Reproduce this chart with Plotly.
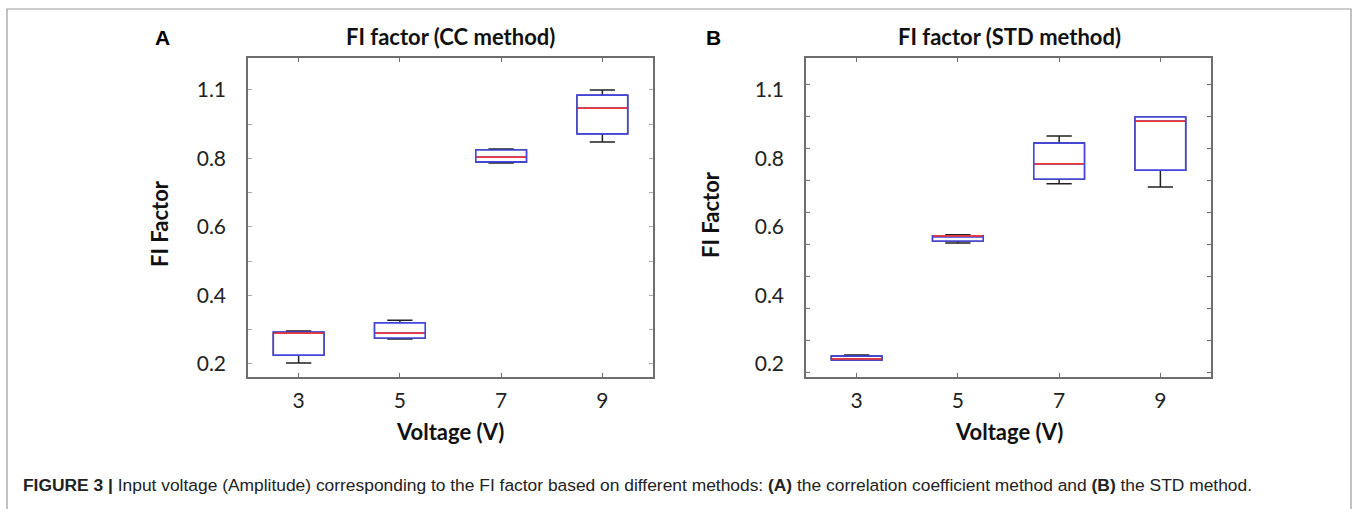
import plotly.graph_objects as go

W, H = 1358, 509

voltages = [3, 5, 7, 9]
tick_vals_x = [3, 5, 7, 9]
y_tickvals = [0.2, 0.4, 0.6, 0.8, 1.0]
y_ticktext = ["0.2", "0.4", "0.6", "0.8", "1.1"]

# Panel A (CC method): box statistics
cc_lower = [0.203, 0.273, 0.787, 0.848]
cc_q1 = [0.226, 0.276, 0.790, 0.872]
cc_median = [0.290, 0.290, 0.804, 0.947]
cc_q3 = [0.293, 0.320, 0.825, 0.985]
cc_upper = [0.296, 0.328, 0.828, 1.000]

# Panel B (STD method)
std_lower = [0.212, 0.553, 0.726, 0.717]
std_q1 = [0.212, 0.559, 0.740, 0.766]
std_median = [0.215, 0.574, 0.784, 0.909]
std_q3 = [0.223, 0.574, 0.845, 0.921]
std_upper = [0.226, 0.577, 0.866, 0.921]

BLUE = "#4444e0"
RED = "#e83a3a"
BLACK = "#222222"
AXIS = "#6e6e6e"
FONT = "Lato, 'Open Sans', sans-serif"

fig = go.Figure()


def add_panel(xa, ya, lower, q1, med, q3, upper):
    # whiskers + caps in black
    fig.add_trace(go.Box(
        x=voltages, lowerfence=lower, q1=q1, median=med, q3=q3, upperfence=upper,
        width=1.0, whiskerwidth=0.5, line=dict(color=BLACK, width=1.5),
        fillcolor="white", xaxis=xa, yaxis=ya, showlegend=False, hoverinfo="skip",
    ))
    # box outline in blue
    fig.add_trace(go.Box(
        x=voltages, lowerfence=q1, q1=q1, median=med, q3=q3, upperfence=q3,
        width=1.0, whiskerwidth=0, line=dict(color=BLUE, width=1.6),
        fillcolor="white", xaxis=xa, yaxis=ya, showlegend=False, hoverinfo="skip",
    ))
    # median in red
    fig.add_trace(go.Box(
        x=voltages, lowerfence=med, q1=med, median=med, q3=med, upperfence=med,
        width=0.97, whiskerwidth=0, line=dict(color=RED, width=1.7),
        fillcolor="rgba(0,0,0,0)", xaxis=xa, yaxis=ya, showlegend=False, hoverinfo="skip",
    ))


add_panel("x", "y", cc_lower, cc_q1, cc_median, cc_q3, cc_upper)
add_panel("x2", "y2", std_lower, std_q1, std_median, std_q3, std_upper)

ydom = [1 - 377 / H, 1 - 58 / H]
yrange = [0.162, 1.0934]
xrange = [2, 10]

xcommon = dict(
    range=xrange, tickvals=tick_vals_x, ticktext=[str(v) for v in tick_vals_x],
    ticks="inside", ticklen=4, tickcolor=AXIS, showline=True, linecolor=AXIS, linewidth=1.5,
    mirror="ticks", showgrid=False, zeroline=False,
    tickfont=dict(family=FONT, size=21, color="#222"), ticklabelstandoff=4,
)
ycommon = dict(
    range=yrange, tickvals=y_tickvals, ticktext=y_ticktext,
    showline=True, linecolor=AXIS, linewidth=1.5, mirror="ticks", showgrid=False, zeroline=False,
    tickfont=dict(family=FONT, size=21, color="#222"), ticklabelstandoff=16,
)

fig.update_layout(
    width=W, height=H, autosize=False,
    margin=dict(l=0, r=0, t=0, b=0),
    paper_bgcolor="white", plot_bgcolor="white",
    boxmode="overlay",
    xaxis=dict(domain=[248 / W, 653 / W], anchor="y", **xcommon),
    yaxis=dict(domain=ydom, anchor="x", ticks="inside", ticklen=4, tickcolor="#aaaaaa",
               minor=dict(tick0=0.1, dtick=0.1, ticks="inside", ticklen=4, tickcolor="#aaaaaa"),
               **ycommon),
    xaxis2=dict(domain=[806 / W, 1211 / W], anchor="y2", **xcommon),
    yaxis2=dict(domain=ydom, anchor="x2", ticks="inside", ticklen=0, tickcolor=AXIS,
                minor=dict(tick0=0.174, dtick=0.0937, ticks="inside", ticklen=4, tickcolor=AXIS),
                **ycommon),
)


def px(x):
    return x / W


def py(y):
    return 1 - y / H


ann = []
# titles
ann.append(dict(x=px(450), y=py(36), text="<b>FI factor (CC method)</b>", font=dict(family=FONT, size=22, color="#111")))
ann.append(dict(x=px(1009), y=py(36), text="<b>FI factor (STD method)</b>", font=dict(family=FONT, size=22, color="#111")))
# panel letters
ann.append(dict(x=px(162), y=py(37), text="<b>A</b>", font=dict(family="Liberation Sans, Arial, sans-serif", size=21, color="#000")))
ann.append(dict(x=px(713), y=py(37), text="<b>B</b>", font=dict(family="Liberation Sans, Arial, sans-serif", size=21, color="#000")))
# axis titles
ann.append(dict(x=px(450), y=py(431), text="<b>Voltage (V)</b>", font=dict(family=FONT, size=22, color="#111")))
ann.append(dict(x=px(1009), y=py(431), text="<b>Voltage (V)</b>", font=dict(family=FONT, size=22, color="#111")))
ann.append(dict(x=px(160), y=py(224), text="<b>FI Factor</b>", textangle=-90, font=dict(family=FONT, size=22, color="#111")))
ann.append(dict(x=px(711), y=py(215), text="<b>FI Factor</b>", textangle=-90, font=dict(family=FONT, size=22, color="#111")))
# caption
ann.append(dict(
    x=px(21), y=py(485), xanchor="left",
    text="<b>FIGURE 3 |</b> Input voltage (Amplitude) corresponding to the FI factor based on different methods: "
         "<b>(A)</b> the correlation coefficient method and <b>(B)</b> the STD method.",
    font=dict(family="Liberation Sans, Arial, sans-serif", size=17.4, color="#222"),
))
for a in ann:
    a.update(xref="paper", yref="paper", showarrow=False)
    a.setdefault("xanchor", "center")
    a.setdefault("yanchor", "middle")
fig.update_layout(annotations=ann)

fig.add_shape(type="rect", xref="paper", yref="paper",
              x0=px(7), x1=px(1351), y0=py(530), y1=py(9),
              line=dict(color="#9a9a9a", width=1.2), fillcolor="rgba(0,0,0,0)", layer="below")

fig.write_html("out.html")
